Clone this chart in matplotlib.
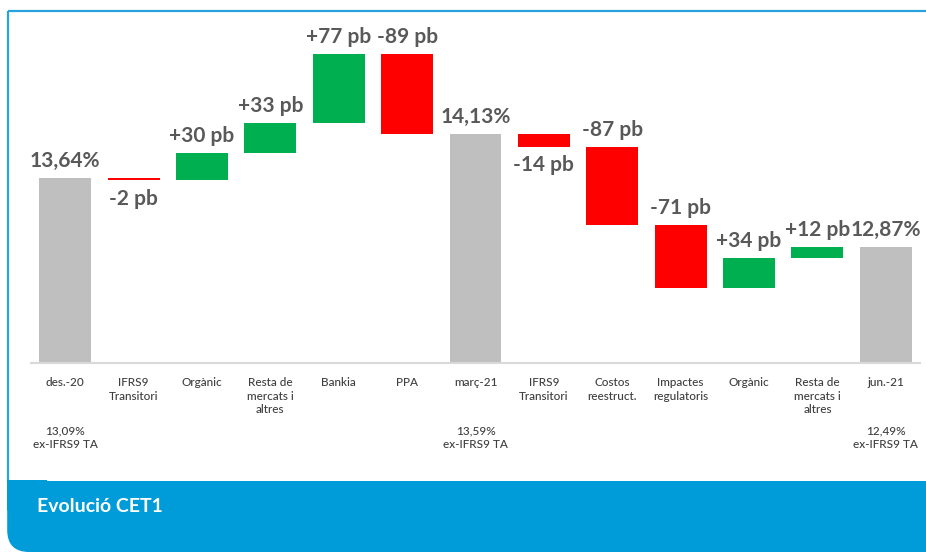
import matplotlib
matplotlib.use("Agg")
import matplotlib.pyplot as plt
from matplotlib.patches import Rectangle, FancyBboxPatch

# data
categories = ['des.-20', 'IFRS9\nTransitori', 'Orgànic', 'Resta de\nmercats i\naltres',
              'Bankia', 'PPA', 'març-21', 'IFRS9\nTransitori', 'Costos\nreestruct.',
              'Impactes\nregulatoris', 'Orgànic', 'Resta de\nmercats i\naltres', 'jun.-21']
# None = total bar; otherwise change in basis points
changes_pb = [None, -2, 30, 33, 77, -89, None, -14, -87, -71, 34, 12, None]
totals = [13.64, 14.13, 12.87]
sub_labels = ['13,09%\nex-IFRS9 TA', '13,59%\nex-IFRS9 TA', '12,49%\nex-IFRS9 TA']
# where each delta label goes
label_side = [None, 'below', 'above', 'above', 'above', 'above', None,
              'below', 'above', 'above', 'above', 'above', None]

GREEN = '#00B050'
RED = '#FF0000'
GREY = '#BFBFBF'
TXT = '#595959'
BLUE = '#009BD9'

plt.rcParams['font.family'] = ['Lato', 'DejaVu Sans']

W, H = 926, 552
fig = plt.figure(figsize=(W / 100, H / 100), dpi=100)

# background decoration in pixel coords
bg = fig.add_axes([0, 0, 1, 1])
bg.set_xlim(0, W)
bg.set_ylim(H, 0)
bg.axis('off')
bg.plot([8, W], [11, 11], color='#29A3DC', lw=1.6, solid_capstyle='butt')
bg.plot([8, 8], [11, 482], color='#29A3DC', lw=1.6, solid_capstyle='butt')
bg.add_patch(FancyBboxPatch((7.2, 481), W + 60, H - 481, boxstyle='round,pad=0,rounding_size=22',
                            fc=BLUE, ec='none', zorder=3))
bg.add_patch(Rectangle((7.2, 480), 40, 30, fc=BLUE, ec='none', zorder=3))
bg.text(37, 507, 'Evolució CET1', color='white', fontsize=14, fontweight='bold',
        va='center', ha='left', zorder=4)

# chart
ax = fig.add_axes([31 / W, (H - 363) / H, 889 / W, (363 - 20) / H])
ax.patch.set_alpha(0)
ymin = 11.58
ymax = ymin + (363 - 20) / 89.8
ax.set_ylim(ymin, ymax)
ax.set_xlim(-0.5, len(categories) - 0.5)

level = None
ti = 0
for i, ch in enumerate(changes_pb):
    if ch is None:
        val = totals[ti]
        ax.bar(i, val - ymin, bottom=ymin, width=0.76, color=GREY, zorder=2)
        ax.annotate(f'{val:.2f}%'.replace('.', ','), (i, val), xytext=(0, 5),
                    textcoords='offset points', ha='center', va='bottom',
                    fontsize=15, fontweight='bold', color=TXT)
        ax.text(i, -0.183, sub_labels[ti], transform=ax.get_xaxis_transform(),
                ha='center', va='top', fontsize=8.5, color='#3F3F3F', linespacing=1.3,
                fontweight='medium')
        level = val
        ti += 1
    else:
        d = ch / 100
        lo, hi = min(level, level + d), max(level, level + d)
        h = hi - lo
        if h < 0.025:
            h = 0.025
            lo = hi - h
        ax.bar(i, h, bottom=lo, width=0.76, color=GREEN if ch > 0 else RED, zorder=2)
        txt = f'{ch:+d} pb'
        if label_side[i] == 'above':
            ax.annotate(txt, (i, hi), xytext=(0, 5), textcoords='offset points',
                        ha='center', va='bottom', fontsize=15, fontweight='bold', color=TXT)
        else:
            ax.annotate(txt, (i, lo), xytext=(0, -6), textcoords='offset points',
                        ha='center', va='top', fontsize=15, fontweight='bold', color=TXT)
        level = level + d

ax.set_xticks(range(len(categories)))
ax.set_xticklabels(categories, fontsize=8.5, color='#3F3F3F', linespacing=1.3,
                   fontweight='medium')
ax.tick_params(axis='x', length=0, pad=10)
ax.set_yticks([])
for s in ['top', 'right', 'left']:
    ax.spines[s].set_visible(False)
ax.spines['bottom'].set_color('#D9D9D9')
ax.spines['bottom'].set_linewidth(1.5)

fig.savefig('out.png', dpi=100)
